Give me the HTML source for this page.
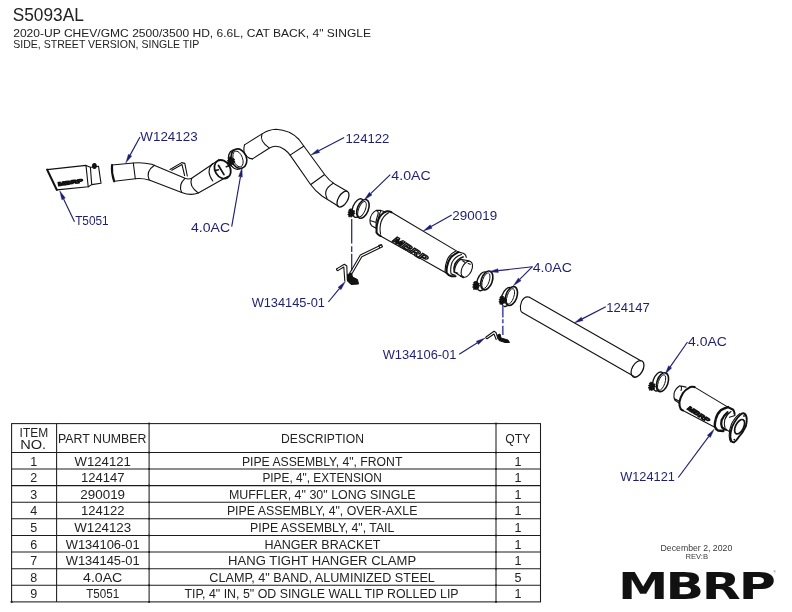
<!DOCTYPE html>
<html lang="en"><head><meta charset="utf-8"><title>S5093AL</title>
<style>
html,body{margin:0;padding:0;background:#fff;}
body{width:792px;height:612px;overflow:hidden;}
svg{display:block;font-family:"Liberation Sans",sans-serif;will-change:transform;}
.k{fill:none;stroke:#111;stroke-width:1.1;stroke-linecap:round;stroke-linejoin:round;}
.k2{fill:none;stroke:#111;stroke-width:2.1;stroke-linecap:round;stroke-linejoin:round;}
.w{fill:#fff;stroke:#111;stroke-width:1.1;stroke-linejoin:round;}
.t{stroke:#1c1c1c;stroke-width:1.05;fill:none;}
</style></head><body>
<svg width="792" height="612" viewBox="0 0 792 612">
<rect width="792" height="612" fill="#fff"/>

<text x="12.72" y="20.70" font-size="17.6" fill="#222" textLength="71.06" lengthAdjust="spacingAndGlyphs">S5093AL</text>
<text x="13.22" y="36.80" font-size="10.5" fill="#222" textLength="357.80" lengthAdjust="spacingAndGlyphs">2020-UP CHEV/GMC 2500/3500 HD, 6.6L, CAT BACK, 4&quot; SINGLE</text>
<text x="13.22" y="48.30" font-size="10.5" fill="#222" textLength="186.05" lengthAdjust="spacingAndGlyphs">SIDE, STREET VERSION, SINGLE TIP</text>
<g class="t">
<rect x="11.6" y="423.6" width="528.90" height="178.29"/>
<path d="M56.6,423.6 V601.89"/>
<path d="M149.1,423.6 V601.89"/>
<path d="M496.0,423.6 V601.89"/>
<path d="M11.6,452.40 H540.5"/>
<path d="M11.6,469.01 H540.5"/>
<path d="M11.6,485.62 H540.5"/>
<path d="M11.6,502.23 H540.5"/>
<path d="M11.6,518.84 H540.5"/>
<path d="M11.6,535.45 H540.5"/>
<path d="M11.6,552.06 H540.5"/>
<path d="M11.6,568.67 H540.5"/>
<path d="M11.6,585.28 H540.5"/>
</g>
<circle cx="149.1" cy="423.60" r="1.0" fill="#1c1c1c"/>
<circle cx="149.1" cy="452.40" r="1.0" fill="#1c1c1c"/>
<circle cx="149.1" cy="469.01" r="1.0" fill="#1c1c1c"/>
<circle cx="149.1" cy="485.62" r="1.0" fill="#1c1c1c"/>
<circle cx="149.1" cy="502.23" r="1.0" fill="#1c1c1c"/>
<circle cx="149.1" cy="518.84" r="1.0" fill="#1c1c1c"/>
<circle cx="149.1" cy="535.45" r="1.0" fill="#1c1c1c"/>
<circle cx="149.1" cy="552.06" r="1.0" fill="#1c1c1c"/>
<circle cx="149.1" cy="568.67" r="1.0" fill="#1c1c1c"/>
<circle cx="149.1" cy="585.28" r="1.0" fill="#1c1c1c"/>
<circle cx="149.1" cy="601.89" r="1.0" fill="#1c1c1c"/>
<circle cx="496.0" cy="423.60" r="1.0" fill="#1c1c1c"/>
<circle cx="496.0" cy="452.40" r="1.0" fill="#1c1c1c"/>
<circle cx="496.0" cy="469.01" r="1.0" fill="#1c1c1c"/>
<circle cx="496.0" cy="485.62" r="1.0" fill="#1c1c1c"/>
<circle cx="496.0" cy="502.23" r="1.0" fill="#1c1c1c"/>
<circle cx="496.0" cy="518.84" r="1.0" fill="#1c1c1c"/>
<circle cx="496.0" cy="535.45" r="1.0" fill="#1c1c1c"/>
<circle cx="496.0" cy="552.06" r="1.0" fill="#1c1c1c"/>
<circle cx="496.0" cy="568.67" r="1.0" fill="#1c1c1c"/>
<circle cx="496.0" cy="585.28" r="1.0" fill="#1c1c1c"/>
<circle cx="496.0" cy="601.89" r="1.0" fill="#1c1c1c"/>
<circle cx="11.6" cy="601.89" r="1.1" fill="#1c1c1c"/>
<text x="19.58" y="437.30" font-size="12.5" fill="#222" textLength="28.55" lengthAdjust="spacingAndGlyphs">ITEM</text>
<text x="20.23" y="449.40" font-size="12.5" fill="#222" textLength="25.95" lengthAdjust="spacingAndGlyphs">NO.</text>
<text x="57.98" y="442.80" font-size="12.5" fill="#222" textLength="88.55" lengthAdjust="spacingAndGlyphs">PART NUMBER</text>
<text x="281.07" y="442.90" font-size="12.5" fill="#222" textLength="82.85" lengthAdjust="spacingAndGlyphs">DESCRIPTION</text>
<text x="505.18" y="442.90" font-size="12.5" fill="#222" textLength="25.15" lengthAdjust="spacingAndGlyphs">QTY</text>
<text x="33.75" y="465.60" font-size="12.5" fill="#222" text-anchor="middle">1</text>
<text x="74.58" y="465.60" font-size="12.5" fill="#222" textLength="56.25" lengthAdjust="spacingAndGlyphs">W124121</text>
<text x="241.88" y="465.60" font-size="12.5" fill="#222" textLength="160.50" lengthAdjust="spacingAndGlyphs">PIPE ASSEMBLY, 4&quot;, FRONT</text>
<text x="518" y="465.60" font-size="12.5" fill="#222" text-anchor="middle">1</text>
<text x="33.75" y="482.21" font-size="12.5" fill="#222" text-anchor="middle">2</text>
<text x="80.95" y="482.21" font-size="12.5" fill="#222" textLength="43.50" lengthAdjust="spacingAndGlyphs">124147</text>
<text x="262.38" y="482.21" font-size="12.5" fill="#222" textLength="119.50" lengthAdjust="spacingAndGlyphs">PIPE, 4&quot;, EXTENSION</text>
<text x="518" y="482.21" font-size="12.5" fill="#222" text-anchor="middle">1</text>
<text x="33.75" y="498.82" font-size="12.5" fill="#222" text-anchor="middle">3</text>
<text x="80.33" y="498.82" font-size="12.5" fill="#222" textLength="44.75" lengthAdjust="spacingAndGlyphs">290019</text>
<text x="228.88" y="498.82" font-size="12.5" fill="#222" textLength="186.75" lengthAdjust="spacingAndGlyphs">MUFFLER, 4&quot; 30&quot; LONG SINGLE</text>
<text x="518" y="498.82" font-size="12.5" fill="#222" text-anchor="middle">1</text>
<text x="33.75" y="515.43" font-size="12.5" fill="#222" text-anchor="middle">4</text>
<text x="80.95" y="515.43" font-size="12.5" fill="#222" textLength="43.50" lengthAdjust="spacingAndGlyphs">124122</text>
<text x="226.88" y="515.43" font-size="12.5" fill="#222" textLength="190.50" lengthAdjust="spacingAndGlyphs">PIPE ASSEMBLY, 4&quot;, OVER-AXLE</text>
<text x="518" y="515.43" font-size="12.5" fill="#222" text-anchor="middle">1</text>
<text x="33.75" y="532.04" font-size="12.5" fill="#222" text-anchor="middle">5</text>
<text x="74.20" y="532.04" font-size="12.5" fill="#222" textLength="57.00" lengthAdjust="spacingAndGlyphs">W124123</text>
<text x="250.12" y="532.04" font-size="12.5" fill="#222" textLength="144.25" lengthAdjust="spacingAndGlyphs">PIPE ASSEMBLY, 4&quot;, TAIL</text>
<text x="518" y="532.04" font-size="12.5" fill="#222" text-anchor="middle">1</text>
<text x="33.75" y="548.65" font-size="12.5" fill="#222" text-anchor="middle">6</text>
<text x="65.70" y="548.65" font-size="12.5" fill="#222" textLength="74.00" lengthAdjust="spacingAndGlyphs">W134106-01</text>
<text x="264.38" y="548.65" font-size="12.5" fill="#222" textLength="116.00" lengthAdjust="spacingAndGlyphs">HANGER BRACKET</text>
<text x="518" y="548.65" font-size="12.5" fill="#222" text-anchor="middle">1</text>
<text x="33.75" y="565.26" font-size="12.5" fill="#222" text-anchor="middle">7</text>
<text x="65.70" y="565.26" font-size="12.5" fill="#222" textLength="74.00" lengthAdjust="spacingAndGlyphs">W134145-01</text>
<text x="228.12" y="565.26" font-size="12.5" fill="#222" textLength="188.00" lengthAdjust="spacingAndGlyphs">HANG TIGHT HANGER CLAMP</text>
<text x="518" y="565.26" font-size="12.5" fill="#222" text-anchor="middle">1</text>
<text x="33.75" y="581.87" font-size="12.5" fill="#222" text-anchor="middle">8</text>
<text x="83.08" y="581.87" font-size="12.5" fill="#222" textLength="39.25" lengthAdjust="spacingAndGlyphs">4.0AC</text>
<text x="209.38" y="581.87" font-size="12.5" fill="#222" textLength="225.50" lengthAdjust="spacingAndGlyphs">CLAMP, 4&quot; BAND, ALUMINIZED STEEL</text>
<text x="518" y="581.87" font-size="12.5" fill="#222" text-anchor="middle">5</text>
<text x="33.75" y="598.48" font-size="12.5" fill="#222" text-anchor="middle">9</text>
<text x="86.20" y="598.48" font-size="12.5" fill="#222" textLength="33.00" lengthAdjust="spacingAndGlyphs">T5051</text>
<text x="184.38" y="598.48" font-size="12.5" fill="#222" textLength="274.25" lengthAdjust="spacingAndGlyphs">TIP, 4&quot; IN, 5&quot; OD SINGLE WALL TIP ROLLED LIP</text>
<text x="518" y="598.48" font-size="12.5" fill="#222" text-anchor="middle">1</text>
<text x="660.57" y="551.20" font-size="8.6" fill="#3a3a3a" textLength="71.66" lengthAdjust="spacingAndGlyphs">December 2, 2020</text>
<text x="685.43" y="559.20" font-size="7.4" fill="#3a3a3a" textLength="22.64" lengthAdjust="spacingAndGlyphs">REV:B</text>
<text id="logo" font-family="'DejaVu Sans','Liberation Sans',sans-serif" font-weight="bold" font-size="38.1" fill="#111" transform="scale(1.33,1)" x="464.6 500.4 527.7 555.4" y="598.9">MBRP</text>
<text x="773.5" y="573" font-size="3" fill="#333">®</text>
<g id="tip">
<path class="k" d="M47.1,169.6 L86,165.4 L88.2,186.8 L56.8,189.9"/>
<path class="k2" d="M47.1,169.6 L56.8,189.9"/>
<path class="k" d="M86,165.4 L90.4,167.2 L91.7,184.6 L88.2,186.8 M90.4,167.2 L98.5,166.2 L101,183.3 L91.7,184.6"/>
<ellipse cx="94.4" cy="166" rx="2.4" ry="3" fill="#111"/>
<text x="0" y="0" font-size="5.2" font-weight="bold" fill="#111" stroke="#111" stroke-width="1.0" textLength="25" lengthAdjust="spacingAndGlyphs" transform="translate(58.3,186) rotate(-8.5)">MBRP</text>
</g>
<g id="tail">
<path class="k" d="M112,165 L133.3,163 Q142,162 151.7,164.2 L185,178.3 Q188.5,179.6 191.7,178.3 L219,159.7"/>
<path class="k" d="M114.2,181.3 L135.3,178.7 Q142,178 149.2,180 L181.7,192.5 Q191,196 198.3,193 L228,176.3"/>
<path class="k2" d="M112,165 Q111.3,173 114.2,181.3"/>
<path class="k" d="M133.3,163 L135.3,178.7"/>
<path class="k" d="M154.5,165.2 Q145.5,171 149.2,180"/>
<path class="k" d="M185,178.3 Q178,185 181.7,192.5"/>
<path class="k" d="M191.7,178.3 Q188.5,186 198.3,193"/>
<path class="k" d="M170,169.5 L181.7,162.6 L184.8,163.4 L187.3,176 M171.8,170.3 L182,164.6 L184.6,175.5"/>
<path class="k" d="M212.5,163.6 Q205.5,171 212.8,181"/>
<ellipse class="k2" cx="222.6" cy="169.3" rx="7.6" ry="9.8" fill="#fff" transform="rotate(-30 222.6 169.3)" style="stroke-width:1.8"/>
<path class="k2" d="M218.5,165.5 L224,174.6" style="stroke-width:1.7"/><path class="k" d="M215.5,170.4 L218.5,169.7 M226.3,166.8 L229,165.8" style="stroke-width:1.5"/>
</g>
<g fill="none" stroke="#111" stroke-width="1.35">
<ellipse cx="236.30" cy="159.50" rx="7.6" ry="10.0" transform="rotate(-20 236.30 159.50)"/>
<ellipse cx="238.90" cy="158.70" rx="7.6" ry="10.0" fill="#fff" stroke-width="1.6" transform="rotate(-20 238.90 158.70)"/>
<ellipse cx="238.00" cy="159.00" rx="4.56" ry="8.30" stroke-width="0.9" transform="rotate(-20 238.00 159.00)"/>
</g>
<path d="M229.9,156.9 L232.1,157.3 L232.5,158.8 L234.4,159.0 L234.0,160.7 L235.0,161.9 L233.5,162.8 L233.8,164.3 L231.9,164.3 L231.4,165.9 L229.7,165.3 L228.3,165.7 L228.5,164.0 L227.2,163.2 L228.3,161.9 L227.4,160.4 L228.9,159.8 L228.3,158.1 Z" fill="#111" stroke="#111" stroke-width="0.9" stroke-linejoin="round"/>
<g id="overaxle">
<path class="k" d="M244.5,144.9 L262.5,133.6 Q269,129.6 276,129.3 Q290,130 299,139.5 L325,175 Q329,180.5 335,184.3 L347.5,191.5"/>
<path class="k" d="M252.5,158.9 Q246.5,158.5 244,152 Q243.5,148 244.5,144.9"/>
<path class="k" d="M252.5,158.9 L269.5,148 Q276.5,144 284.5,149.5 Q288,152.2 290.1,155.1 L310.4,184.2 Q315,190.8 322.3,196.2 L338,206"/>
<path class="k" d="M262,134 Q259.3,141 268.9,147.6"/>
<path class="k" d="M290.1,155.1 L303.6,146.2 M310.8,184.5 L324.3,174.8"/>
<path class="k" d="M333.3,183.3 Q322.5,189.5 327,198.5"/>
<ellipse class="k" cx="343" cy="199.1" rx="4.6" ry="8.8" transform="rotate(31 343 199.1)" style="stroke-width:1.3"/>
</g>
<g fill="none" stroke="#111" stroke-width="1.35">
<ellipse cx="358.30" cy="208.10" rx="5.5" ry="9.8" transform="rotate(22 358.30 208.10)"/>
<ellipse cx="362.90" cy="208.90" rx="5.5" ry="9.8" fill="#fff" stroke-width="1.6" transform="rotate(22 362.90 208.90)"/>
<ellipse cx="362.00" cy="209.20" rx="3.30" ry="8.13" stroke-width="0.9" transform="rotate(22 362.00 209.20)"/>
</g>
<path d="M350.2,208.9 L352.4,209.2 L352.7,210.6 L354.5,210.8 L354.1,212.4 L355.0,213.4 L353.6,214.3 L353.9,215.7 L352.2,215.7 L351.7,217.1 L350.1,216.6 L348.8,216.9 L349.0,215.4 L347.8,214.7 L348.8,213.4 L348.0,212.0 L349.4,211.5 L348.8,209.9 Z" fill="#111" stroke="#111" stroke-width="0.9" stroke-linejoin="round"/>
<path d="M351.7,219 V243.5 M351.7,246.3 V252 M351.7,253.7 V270.5" stroke="#2c2c86" stroke-width="1.3" fill="none"/>
<g id="hang1">
<path class="k" d="M337,268.6 L344.3,264.2 L346.8,266 L347.3,280 M337.8,270.6 L343.8,267 L344.8,281"/>
<path class="k" d="M337,268.6 Q335.8,269.8 337.8,270.6"/>
<path class="k" d="M349.5,273.5 L360.3,255 L381.5,244.8 L382.5,246.8 L361.8,256.8 L351.5,274.5"/>
<path class="k" d="M381.5,244.8 L378.8,245.2 L379.5,247.5"/>
<path d="M347.5,274.5 L351.5,273 L352.5,277 L357.5,279.5 L358.5,284 L351,284.5 L347.5,281 Z" fill="#111" stroke="#111" stroke-width="1"/>
</g>
<g id="muffler">
<path class="k" d="M376.1,210.4 L381,210.4 L385.5,212 M376.1,210.4 Q370.8,213.5 369.9,220.1 Q369.8,224 371.6,225.7 L376.5,228.5 M376.1,210.4 Q379.5,211 377.5,216 Q376,220.5 376.1,222.2 Q376,226 376.5,228.5 M370,220.5 L376.1,222.6 M381,210.4 Q379,214.5 378.6,218"/>
<path class="k" d="M391.4,212.2 L458.5,252.1 M380.5,236 L446.7,273.2"/>
<path class="k2" d="M391.4,212.2 Q388.5,210.8 385.8,211.6 Q380.5,214 378.3,219.5 Q376,226 376.5,232.4 Q378,235 380.5,236"/>
<path class="k" d="M388.6,212.8 Q383,216 381,222 Q379.3,229 380.6,234"/>
<path class="k2" d="M458.5,252.1 Q453.5,254.3 450.8,257.4 Q447.8,261.5 447,266.6 Q446.3,270.4 446.7,273.2 Q448.5,275.6 451.5,276.2 L455.5,276.3"/>
<path class="k" d="M455.8,251 Q450,254 447.5,259 Q445,265 445,271.5"/>
<path class="k" d="M458.5,252.1 L463.3,253.2 Q466,254.5 466.3,257.5"/>
<path class="k" d="M461.5,254.5 Q455,256.5 452,262.5 Q450,268 451,273.5 Q452.5,275 455,275"/>
<path class="k2" style="stroke-width:1.7" d="M463,257 Q457.5,259 455,264 Q453.3,268.5 454.3,272"/>
<path class="w" d="M460.5,259.4 L468.9,260.8 L472.4,267 L463.3,277.8 L454.3,272 Q455,264 460.5,259.4 Z"/>
<ellipse class="w" cx="466.8" cy="269.2" rx="4.9" ry="8.6" transform="rotate(25 466.8 269.2)"/>
<path class="k" d="M462.6,260.8 L464.8,262.2 M468.2,263.6 L470.3,264.3 M454.7,272 L457.8,273.3 M460.5,276.1 L463.3,276.8"/>
<text x="0" y="0" font-size="9.2" font-weight="bold" fill="#fff" stroke="#111" stroke-width="1.1" textLength="39" lengthAdjust="spacingAndGlyphs" transform="translate(391.5,240.8) rotate(32.5) skewX(-18)">MBRP</text>
</g>
<g fill="none" stroke="#111" stroke-width="1.35">
<ellipse cx="482.70" cy="281.30" rx="5.5" ry="9.8" transform="rotate(19 482.70 281.30)"/>
<ellipse cx="486.80" cy="280.40" rx="5.5" ry="9.8" fill="#fff" stroke-width="1.6" transform="rotate(19 486.80 280.40)"/>
<ellipse cx="485.90" cy="280.70" rx="3.30" ry="8.13" stroke-width="0.9" transform="rotate(19 485.90 280.70)"/>
</g>
<path d="M475.0,281.4 L477.2,281.7 L477.5,283.1 L479.3,283.3 L478.9,284.9 L479.8,285.9 L478.4,286.8 L478.7,288.2 L477.0,288.2 L476.5,289.6 L474.9,289.1 L473.6,289.4 L473.8,287.9 L472.6,287.2 L473.6,285.9 L472.8,284.5 L474.2,284.0 L473.6,282.4 Z" fill="#111" stroke="#111" stroke-width="0.9" stroke-linejoin="round"/>
<g fill="none" stroke="#111" stroke-width="1.35">
<ellipse cx="507.30" cy="297.00" rx="5.5" ry="9.8" transform="rotate(19 507.30 297.00)"/>
<ellipse cx="511.40" cy="296.10" rx="5.5" ry="9.8" fill="#fff" stroke-width="1.6" transform="rotate(19 511.40 296.10)"/>
<ellipse cx="510.50" cy="296.40" rx="3.30" ry="8.13" stroke-width="0.9" transform="rotate(19 510.50 296.40)"/>
</g>
<path d="M501.3,296.2 L503.5,296.5 L503.8,297.9 L505.6,298.1 L505.2,299.7 L506.1,300.7 L504.7,301.6 L505.0,303.0 L503.3,303.0 L502.8,304.4 L501.2,303.9 L499.9,304.2 L500.1,302.7 L498.9,302.0 L499.9,300.7 L499.1,299.3 L500.5,298.8 L499.9,297.2 Z" fill="#111" stroke="#111" stroke-width="0.9" stroke-linejoin="round"/>
<path d="M502.8,304.9 V317.6 M502.8,319.2 V323.3 M502.8,325.7 V335.1" stroke="#5656a8" stroke-width="1.7" fill="none"/>
<g id="hang2">
<path class="k" d="M486,337 L494,331.3 L496,332.5 L498,338.8 M487,338.8 L494,334 L496.2,339.5 M486,337 Q485.3,338.3 487,338.8"/>
<path d="M497.5,335 L500,334 L501,338 L508,340 L509.5,342.5 L505,342.5 L499,340.5 Z" fill="#111" stroke="#111" stroke-width="1"/>
</g>
<g id="ext">
<path class="k" d="M529.4,297.2 L640.8,360.8 M522.3,312.6 L634.2,376.6"/>
<path class="k" d="M529.4,297.2 Q524.5,295.8 521.6,301.5 Q519.8,306 520.6,310 Q520.9,311.8 522.3,312.6"/>
<ellipse class="k" cx="637.5" cy="368.9" rx="5.3" ry="9.1" transform="rotate(30 637.5 368.9)" style="stroke-width:1.3"/>
</g>
<g fill="none" stroke="#111" stroke-width="1.35">
<ellipse cx="658.60" cy="381.50" rx="5.5" ry="9.8" transform="rotate(19 658.60 381.50)"/>
<ellipse cx="662.50" cy="382.20" rx="5.5" ry="9.8" fill="#fff" stroke-width="1.6" transform="rotate(19 662.50 382.20)"/>
<ellipse cx="661.60" cy="382.50" rx="3.30" ry="8.13" stroke-width="0.9" transform="rotate(19 661.60 382.50)"/>
</g>
<path d="M650.7,382.2 L652.9,382.5 L653.2,383.9 L655.0,384.1 L654.6,385.7 L655.5,386.7 L654.1,387.6 L654.4,389.0 L652.7,389.0 L652.2,390.4 L650.6,389.9 L649.3,390.2 L649.5,388.7 L648.3,388.0 L649.3,386.7 L648.5,385.3 L649.9,384.8 L649.3,383.2 Z" fill="#111" stroke="#111" stroke-width="0.9" stroke-linejoin="round"/>
<g id="front">
<path class="k" d="M679.8,385.8 L686.1,387.1 M679.8,385.8 Q674.8,389 674,393.9 Q673.6,398 674.9,400.2 L679.5,403.3 M679.8,385.8 Q682.5,386.5 681,390.5 M675,399 L679,401"/>
<path class="k" d="M694.6,387.1 L727.9,407.1 M683,410.5 L714.8,427.3"/>
<path class="k2" d="M694.6,387.1 Q692.5,386.3 690.2,387.1 Q685.5,389.5 683,393 Q680,398 679.4,402 Q679.2,406.5 680.7,409.1 Q681.8,410.2 683,410.5"/>
<path class="k2" style="stroke-width:2.4" d="M727.9,407.1 Q723.5,408.5 720.7,410.3 Q716.8,414 715.7,419.3 Q714.5,423.5 714.8,426.4 Q715.8,429.3 718,430.5 L723.4,431"/>
<path class="k2" d="M727.9,407.1 L733.2,409.8 Q734.6,411.5 734.6,413.9"/>
<path class="k2" style="stroke-width:2.3" d="M727.5,412.3 Q723.5,415.5 721.6,420.2 Q720.5,424.5 722,427.3 Q723.5,429.3 726,429.6"/>
<path class="k" d="M731,411.5 Q726.5,414.5 724.8,419.5 Q723.8,424 725,427.5"/>
<path class="k" d="M729.5,417.3 L735,415.5 M726,429.6 L731.5,432.8"/>
<path class="w" style="stroke-width:1.9" d="M741.3,413.9 Q743,412.8 744,413.4 Q746.3,414.5 746.7,418.4 Q747,422 745.8,426.4 Q743,432.5 738.6,437.2 Q736.5,440.5 734.1,442.2 Q731.5,442.5 731,439.9 Q730,437 730.5,433.6 Q731,430 732.3,426.4 Q734.5,421.5 737.7,417.5 Q739.5,415.2 741.3,413.9 Z"/>
<ellipse class="k2" cx="739.6" cy="426.7" rx="4" ry="7.8" transform="rotate(27 739.6 426.7)" style="stroke-width:1.7"/>
<path class="k" d="M739.8,413.6 Q735,417 731.5,424 Q729,430 729.2,436 Q729.3,440 730.8,441.8"/>
<circle cx="744" cy="416" r="0.9" fill="#111"/><circle cx="734.3" cy="439.6" r="0.9" fill="#111"/>
<text x="0" y="0" font-size="6.2" font-weight="bold" fill="#111" stroke="#111" stroke-width="1.0" textLength="25" lengthAdjust="spacingAndGlyphs" transform="translate(686.5,409) rotate(33) skewX(-15)">MBRP</text>
</g>
<path d="M74.50,221.70 L63.59,198.92" stroke="#1e1e73" stroke-width="1.15" fill="none"/>
<path d="M59.70,190.80 L65.30,198.10 L61.87,199.74 Z" fill="#1e1e73" stroke="#1e1e73" stroke-width="0.4"/>
<path d="M140.00,137.00 L130.08,155.11" stroke="#1e1e73" stroke-width="1.15" fill="none"/>
<path d="M125.75,163.00 L128.41,154.19 L131.74,156.02 Z" fill="#1e1e73" stroke="#1e1e73" stroke-width="0.4"/>
<path d="M231.70,226.70 L240.45,176.77" stroke="#1e1e73" stroke-width="1.15" fill="none"/>
<path d="M242.00,167.90 L242.32,177.09 L238.58,176.44 Z" fill="#1e1e73" stroke="#1e1e73" stroke-width="0.4"/>
<path d="M344.20,137.50 L318.77,150.82" stroke="#1e1e73" stroke-width="1.15" fill="none"/>
<path d="M310.80,155.00 L317.89,149.14 L319.65,152.51 Z" fill="#1e1e73" stroke="#1e1e73" stroke-width="0.4"/>
<path d="M390.30,174.70 L370.67,193.65" stroke="#1e1e73" stroke-width="1.15" fill="none"/>
<path d="M364.20,199.90 L369.35,192.28 L371.99,195.02 Z" fill="#1e1e73" stroke="#1e1e73" stroke-width="0.4"/>
<path d="M451.70,215.00 L431.15,226.50" stroke="#1e1e73" stroke-width="1.15" fill="none"/>
<path d="M423.30,230.90 L430.22,224.85 L432.08,228.16 Z" fill="#1e1e73" stroke="#1e1e73" stroke-width="0.4"/>
<path d="M328.30,302.00 L339.55,288.43" stroke="#1e1e73" stroke-width="1.15" fill="none"/>
<path d="M345.30,281.50 L341.02,289.64 L338.09,287.21 Z" fill="#1e1e73" stroke="#1e1e73" stroke-width="0.4"/>
<path d="M532.50,266.70 L498.14,270.67" stroke="#1e1e73" stroke-width="1.15" fill="none"/>
<path d="M489.20,271.70 L497.92,268.78 L498.36,272.56 Z" fill="#1e1e73" stroke="#1e1e73" stroke-width="0.4"/>
<path d="M532.50,266.70 L519.68,279.45" stroke="#1e1e73" stroke-width="1.15" fill="none"/>
<path d="M513.30,285.80 L518.34,278.11 L521.02,280.80 Z" fill="#1e1e73" stroke="#1e1e73" stroke-width="0.4"/>
<path d="M459.20,354.20 L477.38,342.79" stroke="#1e1e73" stroke-width="1.15" fill="none"/>
<path d="M485.00,338.00 L478.39,344.40 L476.37,341.18 Z" fill="#1e1e73" stroke="#1e1e73" stroke-width="0.4"/>
<path d="M605.80,306.70 L582.20,318.87" stroke="#1e1e73" stroke-width="1.15" fill="none"/>
<path d="M574.20,323.00 L581.33,317.19 L583.07,320.56 Z" fill="#1e1e73" stroke="#1e1e73" stroke-width="0.4"/>
<path d="M687.50,342.00 L670.16,366.82" stroke="#1e1e73" stroke-width="1.15" fill="none"/>
<path d="M665.00,374.20 L668.60,365.73 L671.71,367.91 Z" fill="#1e1e73" stroke="#1e1e73" stroke-width="0.4"/>
<path d="M678.30,477.50 L708.83,436.42" stroke="#1e1e73" stroke-width="1.15" fill="none"/>
<path d="M714.20,429.20 L710.36,437.56 L707.31,435.29 Z" fill="#1e1e73" stroke="#1e1e73" stroke-width="0.4"/>
<text x="75.16" y="225.40" font-size="12.8" fill="#1e1e73" textLength="33.48" lengthAdjust="spacingAndGlyphs">T5051</text>
<text x="140.36" y="140.90" font-size="12.8" fill="#1e1e73" textLength="57.28" lengthAdjust="spacingAndGlyphs">W124123</text>
<text x="191.06" y="231.80" font-size="12.8" fill="#1e1e73" textLength="39.08" lengthAdjust="spacingAndGlyphs">4.0AC</text>
<text x="345.56" y="142.90" font-size="12.8" fill="#1e1e73" textLength="43.78" lengthAdjust="spacingAndGlyphs">124122</text>
<text x="391.36" y="180.10" font-size="12.8" fill="#1e1e73" textLength="39.28" lengthAdjust="spacingAndGlyphs">4.0AC</text>
<text x="452.36" y="219.80" font-size="12.8" fill="#1e1e73" textLength="44.78" lengthAdjust="spacingAndGlyphs">290019</text>
<text x="251.66" y="306.80" font-size="12.8" fill="#1e1e73" textLength="73.28" lengthAdjust="spacingAndGlyphs">W134145-01</text>
<text x="532.66" y="271.80" font-size="12.8" fill="#1e1e73" textLength="39.28" lengthAdjust="spacingAndGlyphs">4.0AC</text>
<text x="382.66" y="358.80" font-size="12.8" fill="#1e1e73" textLength="73.78" lengthAdjust="spacingAndGlyphs">W134106-01</text>
<text x="606.36" y="311.80" font-size="12.8" fill="#1e1e73" textLength="43.48" lengthAdjust="spacingAndGlyphs">124147</text>
<text x="688.06" y="346.30" font-size="12.8" fill="#1e1e73" textLength="38.88" lengthAdjust="spacingAndGlyphs">4.0AC</text>
<text x="620.16" y="481.40" font-size="12.8" fill="#1e1e73" textLength="54.68" lengthAdjust="spacingAndGlyphs">W124121</text>
</svg></body></html>
